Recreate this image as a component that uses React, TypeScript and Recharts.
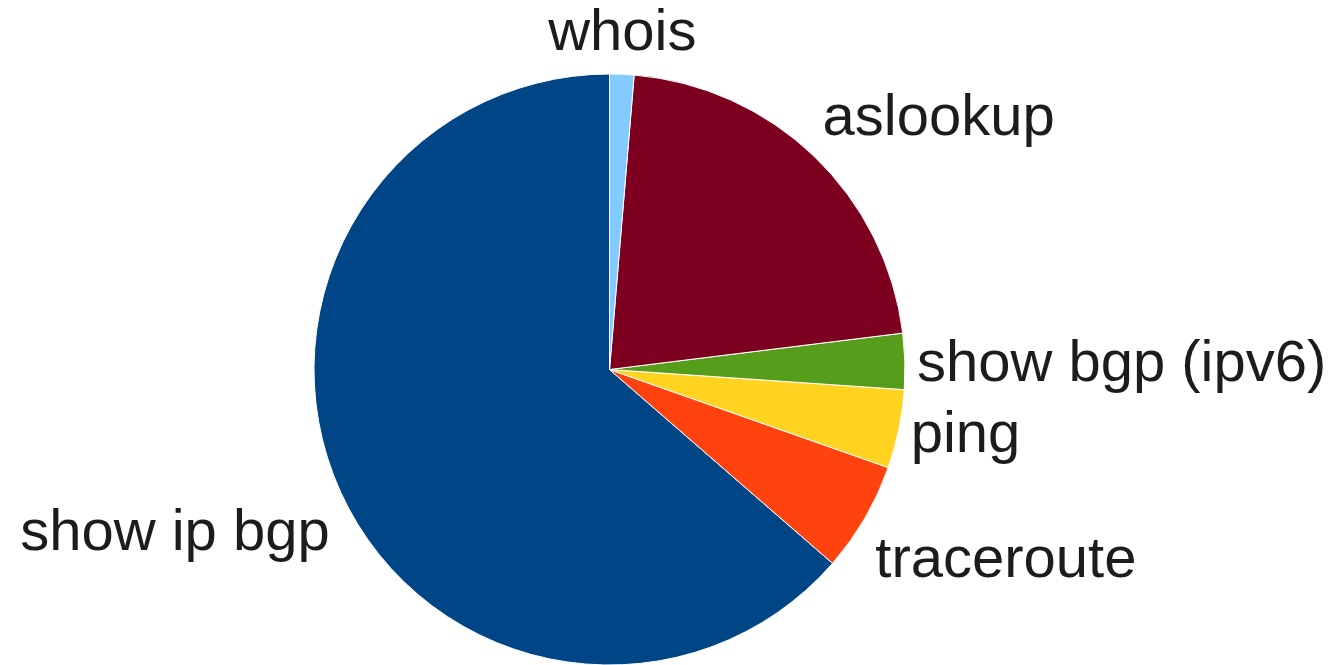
import { Cell, Pie, PieChart } from "recharts"

// Slices in drawing order (counter-clockwise from 12 o'clock)
const categories = ["show ip bgp", "traceroute", "ping", "show bgp (ipv6)", "aslookup", "whois"]
const shares = [63.6, 6.0, 4.3, 3.05, 21.7, 1.33]
const colors = ["#004586", "#ff420e", "#ffd320", "#579d1c", "#7e0021", "#83caff"]

const data = categories.map((name, i) => ({ name, value: shares[i] }))

const FONT_SIZE = 58
const ASCENT = 0.905 * FONT_SIZE
const DESCENT = 0.212 * FONT_SIZE
const LABEL_GAP = 12
const RAD = Math.PI / 180

// Place the label box next to its anchor point, the side picked by the angle octant
const renderLabel = (props: any) => {
  const { cx, cy, midAngle, outerRadius, name } = props
  const angle = ((midAngle % 360) + 360) % 360
  const r = outerRadius + LABEL_GAP
  const x = cx + r * Math.cos(-angle * RAD)
  const y = cy + r * Math.sin(-angle * RAD)

  let anchor: "start" | "middle" | "end" = "start"
  let baseline = y + (ASCENT - DESCENT) / 2
  if (angle <= 22.5 || angle >= 337.5) {
    anchor = "start"
  } else if (angle < 67.5) {
    anchor = "start"
    baseline = y - DESCENT
  } else if (angle < 112.5) {
    anchor = "middle"
    baseline = y - DESCENT
  } else if (angle <= 157.5) {
    anchor = "end"
    baseline = y - DESCENT
  } else if (angle <= 202.5) {
    anchor = "end"
  } else if (angle < 247.5) {
    anchor = "end"
    baseline = y + ASCENT
  } else if (angle < 292.5) {
    anchor = "middle"
    baseline = y + ASCENT
  } else {
    anchor = "start"
    baseline = y + ASCENT
  }

  return (
    <text
      x={x}
      y={baseline}
      textAnchor={anchor}
      fill="#1c1c1c"
      fontSize={FONT_SIZE}
      fontFamily="'Liberation Sans', Arial, sans-serif"
    >
      {name}
    </text>
  )
}

export default function App() {
  return (
    <div style={{ position: "absolute", top: 0, left: 0, width: 1342, height: 665, background: "#fff" }}>
      <PieChart width={1342} height={665} margin={{ top: 0, right: 0, bottom: 0, left: 0 }}>
        <Pie
          data={data}
          dataKey="value"
          nameKey="name"
          cx={609.5}
          cy={369.5}
          innerRadius={0}
          outerRadius={295.5}
          startAngle={90}
          endAngle={450}
          stroke="#ffffff"
          strokeWidth={1}
          label={renderLabel}
          labelLine={false}
          isAnimationActive={false}
        >
          {data.map((entry, i) => (
            <Cell key={entry.name} fill={colors[i]} />
          ))}
        </Pie>
      </PieChart>
    </div>
  )
}
